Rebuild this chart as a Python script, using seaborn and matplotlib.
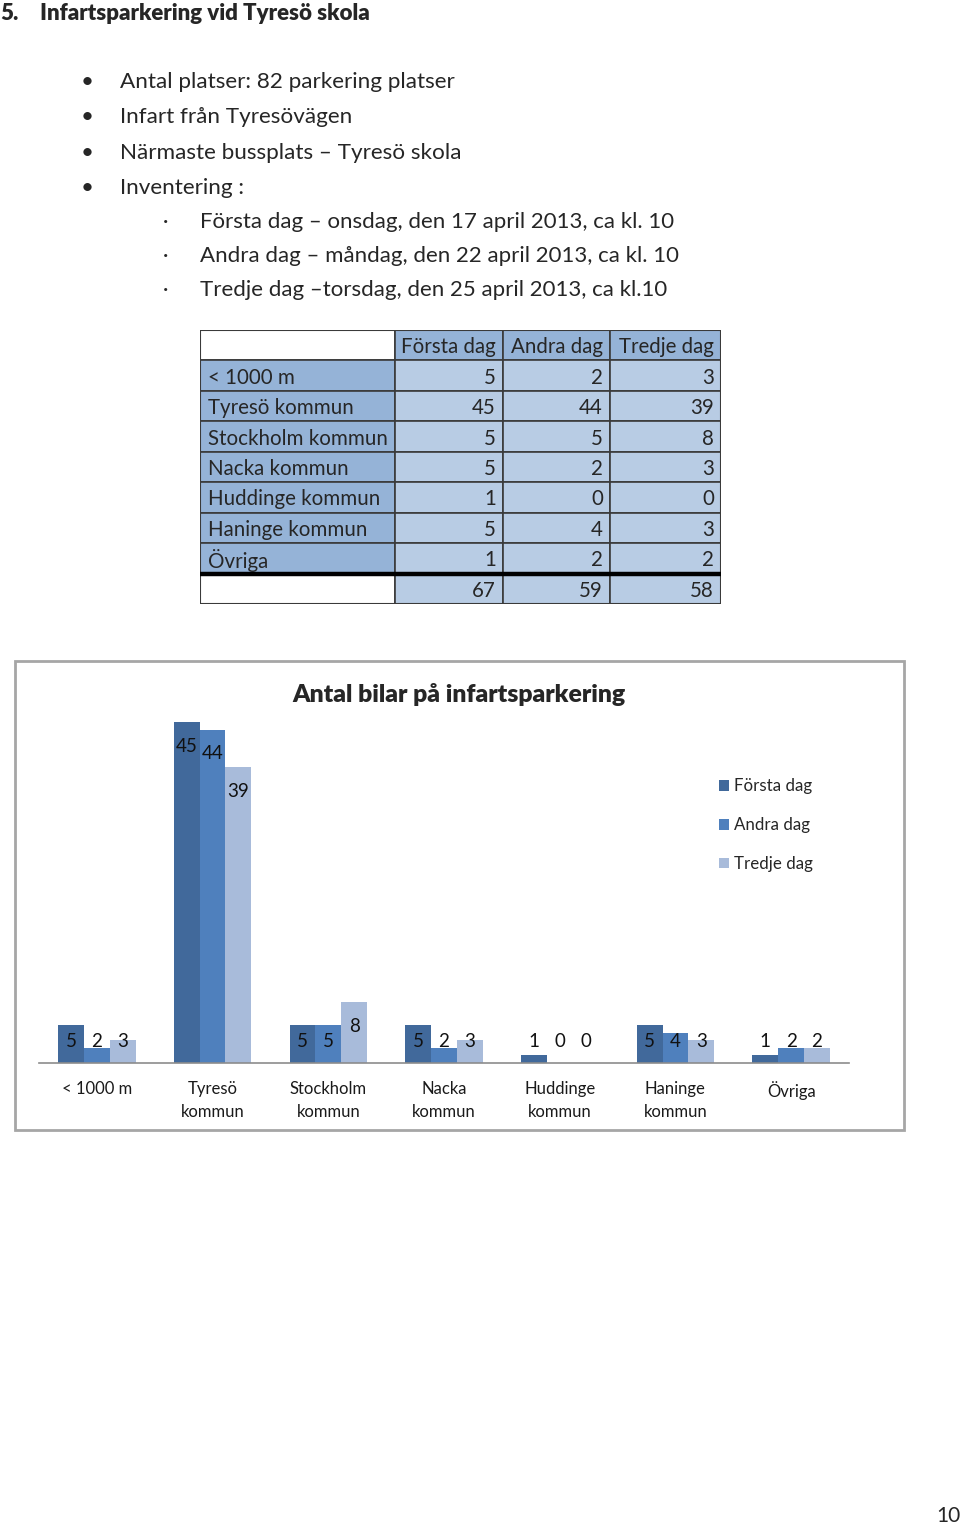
import numpy as np
import pandas as pd
import matplotlib
matplotlib.use("Agg")
import matplotlib.pyplot as plt
import seaborn as sns
from matplotlib.patches import Rectangle, Patch

# ---------------- data ----------------
categories = ["< 1000 m", "Tyresö\nkommun", "Stockholm\nkommun", "Nacka\nkommun",
              "Huddinge\nkommun", "Haninge\nkommun", "Övriga"]
table_rows = ["< 1000 m", "Tyresö kommun", "Stockholm kommun", "Nacka kommun",
              "Huddinge kommun", "Haninge kommun", "Övriga"]
days = ["Första dag", "Andra dag", "Tredje dag"]
forsta = [5, 45, 5, 5, 1, 5, 1]
andra = [2, 44, 5, 2, 0, 4, 2]
tredje = [3, 39, 8, 3, 0, 3, 2]
totals = [67, 59, 58]

heading_num = "5."
heading = "Infartsparkering vid Tyresö skola"
bullets = ["Antal platser: 82 parkering platser", "Infart från Tyresövägen",
           "Närmaste bussplats – Tyresö skola", "Inventering :"]
sub_bullets = ["Första dag – onsdag, den 17 april 2013, ca kl. 10",
               "Andra dag – måndag, den 22 april 2013, ca kl. 10",
               "Tredje dag –torsdag, den 25 april 2013, ca kl.10"]
chart_title = "Antal bilar på infartsparkering"
page_number = "10"

colors = ["#41699B", "#4F80BD", "#A8BBDA"]

sns.set_theme(style="white")
plt.rcParams["font.family"] = ["Lato", "DejaVu Sans"]

W, H = 960, 1527
fig = plt.figure(figsize=(W / 100, H / 100), dpi=100)
fig.patch.set_facecolor("white")

# overlay axes in pixel coordinates for document text
ov = fig.add_axes([0, 0, 1, 1])
ov.set_xlim(0, W)
ov.set_ylim(H, 0)
ov.axis("off")
ov.patch.set_alpha(0)

ov.text(0, 13, heading_num, fontsize=16, fontweight="heavy", va="center", ha="left")
ov.text(40, 13, heading, fontsize=16, fontweight="heavy", va="center", ha="left")
for i, b in enumerate(bullets):
    y = 82 + i * 35.3
    ov.text(87, y, "•", fontsize=16, va="center", ha="center")
    ov.text(120, y, b, fontsize=16.2, va="center", ha="left")
for i, b in enumerate(sub_bullets):
    y = 222 + i * 34
    ov.text(166, y, "·", fontsize=15, va="center", ha="center")
    ov.text(200, y, b, fontsize=16, va="center", ha="left")
ov.text(948, 1516, page_number, fontsize=15, va="center", ha="center")

# chart frame
ov.add_patch(Rectangle((15, 661), 889, 469, fill=False, edgecolor="#A6A6A6", lw=2))
ov.text(459, 695, chart_title, fontsize=17.8, fontweight="heavy", va="center", ha="center")

# ---------------- table ----------------
col_w = [195, 108, 107, 111]
row_h = 30.45
tx0, ty0 = 200, 330
tw, th = sum(col_w), row_h * 9
tab = fig.add_axes([tx0 / W, 1 - (ty0 + th) / H, tw / W, th / H])
tab.set_xlim(0, tw)
tab.set_ylim(th, 0)
tab.axis("off")
edges = np.concatenate([[0], np.cumsum(col_w)])
mid_blue = "#95B3D7"
light_blue = "#B8CCE4"
grid_c = "#3A3A3A"

def cell(r, c, color, text="", align="right"):
    x0, x1 = edges[c], edges[c + 1]
    y0 = r * row_h
    tab.add_patch(Rectangle((x0, y0), x1 - x0, row_h, facecolor=color,
                            edgecolor=grid_c, lw=1.2))
    if text != "":
        if align == "left":
            tab.text(x0 + 8, y0 + row_h / 2 + 2, text, ha="left", va="center", fontsize=14.8)
        else:
            tab.text(x1 - 7, y0 + row_h / 2 + 2, text, ha="right", va="center", fontsize=14.8)

cell(0, 0, "white")
for j, d in enumerate(days):
    cell(0, j + 1, mid_blue, d)
series = [forsta, andra, tredje]
for i, name in enumerate(table_rows):
    cell(i + 1, 0, mid_blue, name, align="left")
    for j in range(3):
        cell(i + 1, j + 1, light_blue, str(series[j][i]))
cell(8, 0, "white")
for j in range(3):
    cell(8, j + 1, light_blue, str(totals[j]))
tab.plot([0, tw], [8 * row_h, 8 * row_h], color="black", lw=3.2, solid_capstyle="butt")
tab.add_patch(Rectangle((0, 0), tw, th, fill=False, edgecolor=grid_c, lw=1.5))

# ---------------- chart ----------------
df = pd.DataFrame({
    "Kategori": categories * 3,
    "Dag": np.repeat(days, len(categories)),
    "Antal": forsta + andra + tredje,
})
ax_l, ax_r, ax_b, ax_t = 39, 849, 1063, 722
ax = fig.add_axes([ax_l / W, 1 - ax_b / H, (ax_r - ax_l) / W, (ax_b - ax_t) / H])
ax.patch.set_alpha(0)
sns.barplot(data=df, x="Kategori", y="Antal", hue="Dag", order=categories,
            hue_order=days, palette=colors, width=0.67, gap=0, saturation=1,
            linewidth=0, ax=ax, legend=False)
ax.set_xlim(-0.5, len(categories) - 0.5)
ax.set_ylim(0, 45)
ax.set_xlabel("")
ax.set_ylabel("")
ax.set_yticks([])
for s in ["left", "top", "right"]:
    ax.spines[s].set_visible(False)
ax.spines["bottom"].set_color("#8C8C8C")
ax.spines["bottom"].set_linewidth(1.2)
ax.set_xticks(range(len(categories)))
ax.set_xticklabels(categories, fontsize=12, linespacing=1.5, color="#1a1a1a")
ax.tick_params(axis="x", which="major", length=0, pad=13)
ax.set_xticks(np.arange(-0.5, len(categories), 1), minor=True)
ax.tick_params(axis="x", which="minor", length=4, width=1.2, color="#8C8C8C", direction="out")

for cont in ax.containers:
    for bar in cont:
        h = bar.get_height()
        ypos = max(h - 3.2, 2.9)
        ax.text(bar.get_x() + bar.get_width() / 2, ypos, f"{int(round(h))}",
                ha="center", va="center", fontsize=13.5, color="#111111")

handles = [Patch(facecolor=c, edgecolor="none") for c in colors]
ax.legend(handles, days, loc="upper left", bbox_to_anchor=(704 / W, 1 - 763 / H),
          bbox_transform=fig.transFigure, frameon=False, fontsize=12.2,
          handlelength=0.6, handleheight=0.6, handletextpad=0.3, labelspacing=1.35)

fig.savefig("out.png", dpi=100, facecolor="white")
